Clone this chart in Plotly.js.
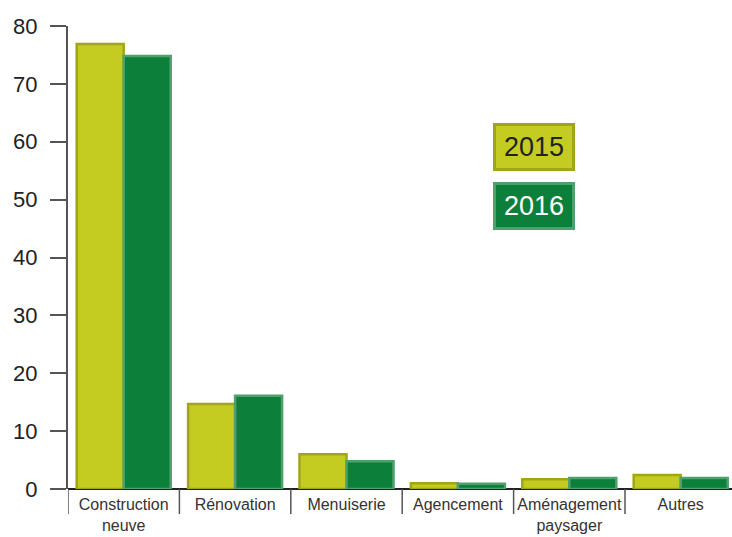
<!DOCTYPE html>
<html><head><meta charset="utf-8">
<script src="https://cdn.plot.ly/plotly-3.0.1.min.js"></script>
<style>html,body{margin:0;padding:0;background:#fff}</style>
</head><body>
<div id="chart" style="width:732px;height:537px"></div>
<script>
const categories = ["Construction<br>neuve", "Rénovation", "Menuiserie", "Agencement", "Aménagement<br>paysager", "Autres"];
const series2015 = [76.9, 14.7, 6.0, 1.0, 1.7, 2.4];
const series2016 = [74.8, 16.1, 4.8, 0.9, 1.9, 1.9];
const yTicks = [0, 10, 20, 30, 40, 50, 60, 70, 80];

const col2015 = "rgb(196,204,34)", edge2015 = "rgb(160,166,24)";
const col2016 = "rgb(12,128,58)", edge2016 = "rgb(80,160,110)";
const idx = categories.map((c, i) => i);

const traces = [
  {type: "bar", name: "2015", x: idx, y: series2015,
   marker: {color: col2015, line: {color: edge2015, width: 2.5}}, showlegend: false, hoverinfo: "none"},
  {type: "bar", name: "2016", x: idx, y: series2016,
   marker: {color: col2016, line: {color: edge2016, width: 2.5}}, showlegend: false, hoverinfo: "none"}
];

const shapes = [];
for (let i = 0; i <= categories.length; i++) {
  shapes.push({type: "line", xref: "x", yref: "paper", x0: i - 0.5, x1: i - 0.5, y0: 0, y1: -0.054,
    line: {color: "#555", width: 1.5}});
}

const layout = {
  width: 732, height: 537,
  margin: {l: 68, r: 0, t: 26, b: 48, pad: 0},
  paper_bgcolor: "#fff", plot_bgcolor: "#fff",
  barmode: "group", bargap: 0.156, bargroupgap: 0,
  font: {family: "Liberation Sans, Arial, sans-serif", color: "#222"},
  xaxis: {
    range: [-0.5, -0.5 + 664 / 111.4], tickvals: idx, ticktext: categories,
    showgrid: false, zeroline: false, ticks: "", showline: false,
    tickfont: {family: "Liberation Sans Narrow, Liberation Sans, Arial", size: 16, color: "#333"},
    ticklabelstandoff: 4,
    fixedrange: true
  },
  yaxis: {
    range: [0, 80], tickvals: yTicks, ticktext: yTicks.map(String),
    showgrid: false, zeroline: true, zerolinecolor: "#222", zerolinewidth: 2,
    showline: true, linecolor: "#555", linewidth: 2,
    ticks: "outside", ticklen: 16, tickwidth: 2, tickcolor: "#555",
    tickfont: {family: "Liberation Sans, Arial", size: 22, color: "#222"},
    ticklabelstandoff: 8
  },
  shapes: shapes,
  annotations: [
    {xref: "paper", yref: "paper", x: 0.702, y: 0.739, xanchor: "center", yanchor: "middle",
     text: "2015", showarrow: false, font: {size: 27, color: "#222", family: "Liberation Sans, Arial"},
     bgcolor: col2015, bordercolor: edge2015, borderwidth: 3, width: 74, height: 40},
    {xref: "paper", yref: "paper", x: 0.702, y: 0.611, xanchor: "center", yanchor: "middle",
     text: "2016", showarrow: false, font: {size: 27, color: "#fff", family: "Liberation Sans, Arial"},
     bgcolor: col2016, bordercolor: edge2016, borderwidth: 3, width: 74, height: 40}
  ]
};

Plotly.newPlot("chart", traces, layout, {displayModeBar: false, staticPlot: true});
</script>
</body></html>
